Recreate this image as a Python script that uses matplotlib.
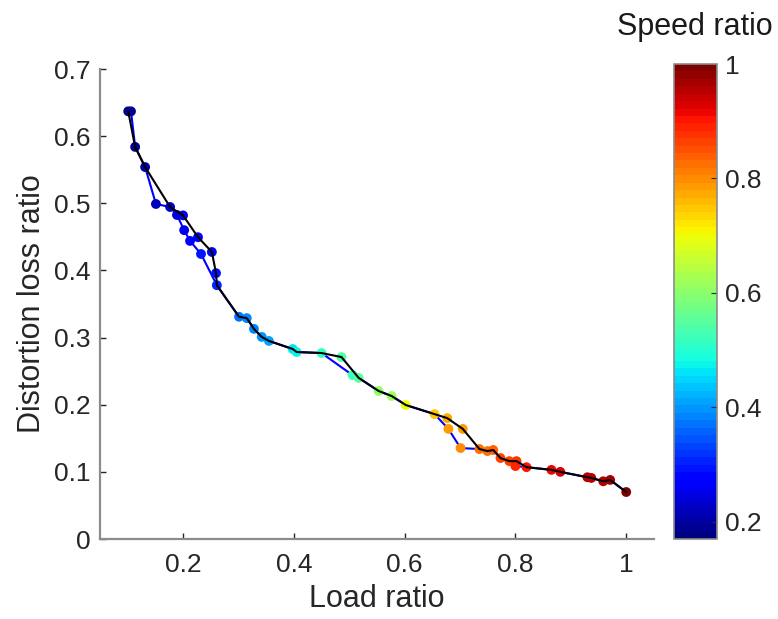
import numpy as np
import matplotlib
matplotlib.use("Agg")
import matplotlib.pyplot as plt

plt.rcParams['font.family'] = ['Liberation Sans', 'DejaVu Sans']

# operating points: load ratio, distortion loss ratio, speed ratio
load_ratio = [0.101, 0.106, 0.1135, 0.1315, 0.151, 0.1766, 0.189, 0.200, 0.202, 0.227,
              0.2126, 0.252, 0.2324, 0.2595, 0.261, 0.301, 0.315, 0.328, 0.342, 0.355,
              0.398, 0.405, 0.450, 0.486, 0.506, 0.517, 0.553, 0.5765, 0.602, 0.654,
              0.677, 0.679, 0.705, 0.701, 0.735, 0.7495, 0.760, 0.773, 0.789, 0.802,
              0.800, 0.820, 0.865, 0.881, 0.930, 0.937, 0.9585, 0.971, 1.000]
loss_ratio = [0.637, 0.637, 0.584, 0.554, 0.499, 0.4945, 0.4826, 0.482, 0.460, 0.4495,
              0.444, 0.4275, 0.4245, 0.396, 0.378, 0.331, 0.329, 0.313, 0.301, 0.295,
              0.283, 0.2785, 0.277, 0.271, 0.244, 0.240, 0.2205, 0.213, 0.1996, 0.186,
              0.180, 0.164, 0.164, 0.1355, 0.134, 0.131, 0.1326, 0.1206, 0.116, 0.116,
              0.1087, 0.107, 0.103, 0.100, 0.092, 0.091, 0.086, 0.088, 0.070]
speed_ratio = [0.18, 0.19, 0.19, 0.20, 0.22, 0.23, 0.24, 0.25, 0.26, 0.27,
               0.27, 0.28, 0.29, 0.29, 0.30, 0.37, 0.38, 0.39, 0.40, 0.41,
               0.46, 0.47, 0.52, 0.54, 0.53, 0.55, 0.60, 0.62, 0.69, 0.75,
               0.77, 0.78, 0.79, 0.80, 0.82, 0.83, 0.84, 0.86, 0.87, 0.88,
               0.89, 0.90, 0.92, 0.93, 0.95, 0.96, 0.96, 0.97, 1.00]

# two traces through the same points (indices into the lists above)
blue_path = [1, 2, 3, 4, 5, 6, 8, 10, 12, 14, 15, 16, 17, 18, 19, 20, 21, 22, 24, 25,
             26, 27, 28, 29, 31, 33, 34, 35, 36, 37, 38, 40, 41, 42, 43, 44, 45, 46, 47, 48]
black_path = [0, 2, 3, 5, 7, 9, 11, 13, 14, 15, 16, 17, 18, 19, 20, 21, 22, 23, 25,
              26, 27, 28, 29, 30, 32, 34, 35, 36, 37, 38, 39, 41, 42, 43, 44, 45, 46, 47, 48]

x = np.array(load_ratio)
y = np.array(loss_ratio)

fig = plt.figure(figsize=(7.78, 6.19), dpi=100)
ax = fig.add_axes([0.1285, 0.1292, 0.712, 0.7593])
cax = fig.add_axes([0.866, 0.1292, 0.0553, 0.7674])

cmap = plt.get_cmap('jet', 64)
ax.plot(x[blue_path], y[blue_path], color='#0000ff', lw=1.5, zorder=2)
sc = ax.scatter(x, y, c=speed_ratio, cmap=cmap, vmin=0.17, vmax=1.0, s=50,
                edgecolors='none', zorder=3)
ax.plot(x[black_path], y[black_path], color='black', lw=1.5, zorder=4)

ax.set_xlim(0.05, 1.05)
ax.set_ylim(0, 0.7)
ax.set_xticks([0.2, 0.4, 0.6, 0.8, 1.0])
ax.set_xticklabels(['0.2', '0.4', '0.6', '0.8', '1'])
ax.set_yticks(np.arange(0, 0.71, 0.1))
ax.set_yticklabels(['0', '0.1', '0.2', '0.3', '0.4', '0.5', '0.6', '0.7'])

grey = '#8c8c8c'
for side in ['top', 'right']:
    ax.spines[side].set_visible(False)
for side in ['left', 'bottom']:
    ax.spines[side].set_color(grey)
    ax.spines[side].set_linewidth(1.6)
ax.tick_params(direction='in', length=4, width=1, color='#262626',
               labelsize=19, labelcolor='#262626', pad=7)
ax.tick_params(axis='x', pad=10)
ax.set_xlabel('Load ratio', fontsize=22, color='#262626', labelpad=5)
ax.set_ylabel('Distortion loss ratio', fontsize=22, color='#262626', labelpad=5)

cb = fig.colorbar(sc, cax=cax)
cb.set_ticks([0.2, 0.4, 0.6, 0.8, 1.0])
cb.set_ticklabels(['0.2', '0.4', '0.6', '0.8', '1'])
cb.outline.set_edgecolor(grey)
cb.outline.set_linewidth(1.2)
cax.tick_params(direction='in', length=4, color='#262626', labelsize=19,
                labelcolor='#262626', pad=6)
cax.set_title('Speed ratio', fontsize=22, color='#1a1a1a', pad=21)

fig.savefig('out.png', dpi=100)
